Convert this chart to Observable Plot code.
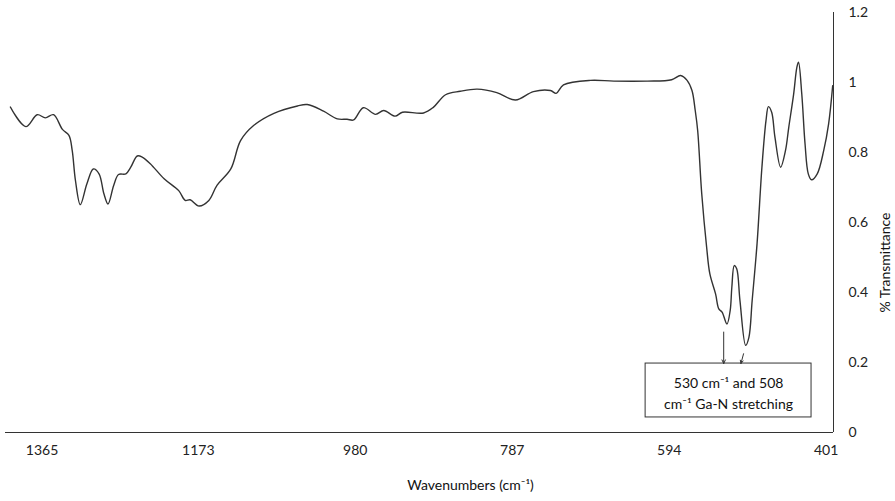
<!DOCTYPE html>
<html>
<head>
<meta charset="utf-8">
<script src="https://cdn.jsdelivr.net/npm/d3@7"></script>
<script src="https://cdn.jsdelivr.net/npm/@observablehq/plot@0.6"></script>
<style>
  html, body { margin: 0; padding: 0; background: #fff; }
  #chart { width: 895px; height: 501px; }
</style>
</head>
<body>
<div id="chart"></div>
<script>
// Wavenumbers (cm^-1)
const wavenumbers = [1404,1385,1371,1361,1351,1340,1332,1328,1324,1318,1310,1302,1295,1289,1284,1277,1271,1262,1256,1248,1242,1232,1215,1197,1189,1183,1172,1160,1150,1133,1121,1105,1080,1051,1039,1019,1002,990,982,970,955,945,931,922,896,884,869,851,830,806,783,761,740,733,724,691,662,621,591,580,572,566,562,559,554,548,544,537,533,529,523,519,517,514,511,507,500,496,492,486,480,475,472,468,464,457,451,447,441,437,435,431,427,423,419,412,404,398,393];
// Transmittance values
const transmittance = [0.93,0.874,0.908,0.899,0.908,0.866,0.849,0.806,0.72,0.651,0.71,0.753,0.739,0.682,0.653,0.706,0.737,0.739,0.758,0.79,0.787,0.768,0.725,0.691,0.663,0.665,0.647,0.663,0.706,0.753,0.834,0.877,0.912,0.933,0.937,0.918,0.896,0.895,0.893,0.928,0.909,0.92,0.904,0.915,0.913,0.929,0.965,0.975,0.981,0.971,0.95,0.974,0.977,0.969,0.993,1.006,1.004,1.004,1.008,1.02,1.006,0.977,0.92,0.863,0.682,0.53,0.453,0.396,0.353,0.344,0.31,0.349,0.415,0.477,0.468,0.377,0.249,0.272,0.377,0.539,0.758,0.891,0.931,0.915,0.844,0.758,0.806,0.872,0.967,1.044,1.058,0.967,0.825,0.739,0.722,0.739,0.806,0.882,0.991];

const xTicks = [1365, 1173, 980, 787, 594, 401];
const yTicks = [0, 0.2, 0.4, 0.6, 0.8, 1, 1.2];
const xDomain = [1410, 392];
const yDomain = [0, 1.2];

// Annotation (data coordinates)
const annotationText = ["530 cm\u207B\u00B9 and 508\ncm\u207B\u00B9 Ga-N stretching"];
const annotationCenter = [{w: 521, t: 0.117}];
const annotationBox = [{w1: 623, w2: 419, t1: 0.043, t2: 0.197}];
const annotationArrows = [
  {w1: 527, t1: 0.287, w2: 527, t2: 0.197},
  {w1: 502.6, t1: 0.225, w2: 505.8, t2: 0.197}
];

const data = wavenumbers.map((w, i) => ({w, t: transmittance[i]}));

const chart = Plot.plot({
  width: 895,
  height: 501,
  marginLeft: 5,
  marginRight: 62,
  marginTop: 12,
  marginBottom: 69,
  style: {fontFamily: "Lato, 'Open Sans', sans-serif", fontSize: "14px", color: "#222", background: "#fff"},
  x: {domain: xDomain, ticks: xTicks, tickSize: 0, tickPadding: 14, tickFormat: d => String(d), label: null},
  y: {domain: yDomain, ticks: yTicks, tickSize: 0, tickPadding: 15, tickFormat: d => String(d), label: null},
  marks: [
    Plot.axisX({ticks: xTicks, tickSize: 0, tickPadding: 13, tickFormat: d => String(d), label: null, fontSize: 14}),
    Plot.axisY({anchor: "right", ticks: yTicks, tickSize: 0, tickPadding: 15, tickFormat: d => String(d), label: null, fontSize: 14}),
    Plot.ruleY([yDomain[0]], {stroke: "#333", strokeWidth: 1}),
    Plot.ruleX([xDomain[1]], {y1: yDomain[0], y2: yDomain[1], stroke: "#333", strokeWidth: 1}),
    Plot.line(data, {x: "w", y: "t", stroke: "#333", strokeWidth: 1.4, curve: "catmull-rom"}),
    Plot.rect(annotationBox, {x1: "w1", x2: "w2", y1: "t1", y2: "t2", fill: "white", stroke: "#333", strokeWidth: 1}),
    Plot.arrow(annotationArrows, {x1: "w1", y1: "t1", x2: "w2", y2: "t2", stroke: "#333", strokeWidth: 1, headLength: 6, headAngle: 50}),
    Plot.text(annotationCenter, {x: "w", y: "t", text: () => annotationText[0], fontSize: 14, lineHeight: 1.5, fill: "#111"}),
    Plot.text(["Wavenumbers (cm\u207B\u00B9)"], {frameAnchor: "bottom", dx: 51, dy: 57, fontSize: 14, fill: "#111"}),
    Plot.text(["% Transmittance"], {frameAnchor: "right", dx: 52, dy: -10, rotate: -90, fontSize: 14, fill: "#111"})
  ]
});
document.getElementById("chart").appendChild(chart);
</script>
</body>
</html>
